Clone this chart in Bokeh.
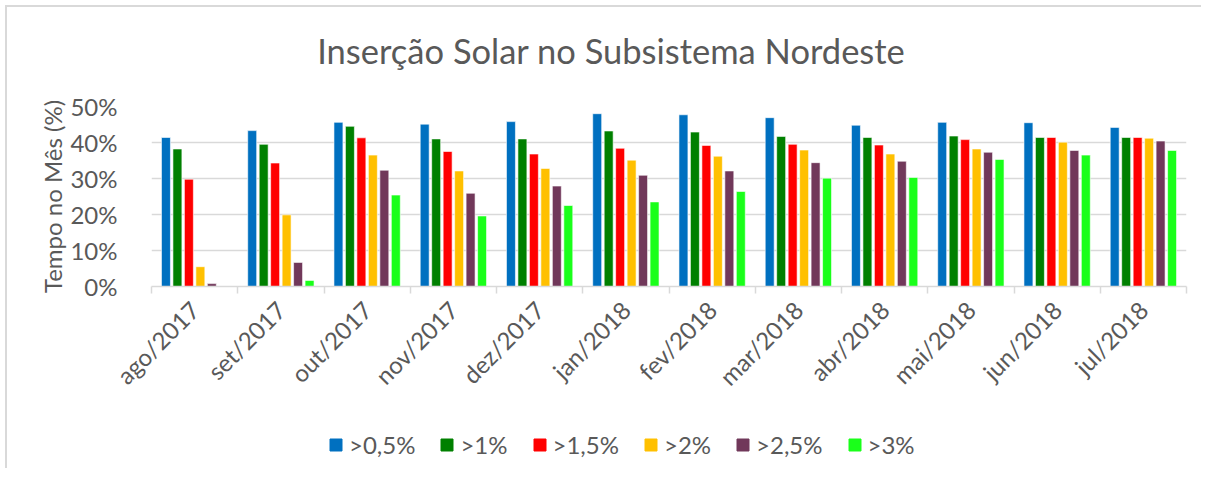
import math
import numpy as np
from bokeh.plotting import figure
from bokeh.layouts import column
from bokeh.models import (ColumnDataSource, FixedTicker, NumeralTickFormatter,
                          Legend, LegendItem, Range1d, Div)
from bokeh.embed import file_html
from bokeh.resources import INLINE

months = ["ago/2017", "set/2017", "out/2017", "nov/2017", "dez/2017", "jan/2018",
          "fev/2018", "mar/2018", "abr/2018", "mai/2018", "jun/2018", "jul/2018"]
series_names = [">0,5%", ">1%", ">1,5%", ">2%", ">2,5%", ">3%"]
s_05 = [41.4, 43.3, 45.6, 45.1, 45.8, 48.0, 47.7, 46.9, 44.8, 45.6, 45.5, 44.2]
s_10 = [38.2, 39.5, 44.5, 41.0, 41.0, 43.2, 42.9, 41.7, 41.4, 41.8, 41.4, 41.4]
s_15 = [29.8, 34.3, 41.3, 37.5, 36.8, 38.4, 39.2, 39.5, 39.3, 40.8, 41.4, 41.4]
s_20 = [5.5, 19.9, 36.5, 32.1, 32.8, 35.1, 36.2, 37.9, 36.8, 38.2, 40.1, 41.2]
s_25 = [0.8, 6.7, 32.3, 25.9, 27.9, 30.9, 32.1, 34.4, 34.8, 37.3, 37.8, 40.4]
s_30 = [0.0, 1.7, 25.4, 19.6, 22.5, 23.5, 26.4, 30.1, 30.3, 35.3, 36.5, 37.8]
colors = ["#0070C0", "#008000", "#FF0000", "#FFC000", "#71385A", "#1AFF1A"]
all_series = [s_05, s_10, s_15, s_20, s_25, s_30]
title_text = "Inserção Solar no Subsistema Nordeste"

FONT = "Lato"
GREY = "#595959"
FS = "24px"

title_div = Div(text=title_text, width=1194, height=70, margin=0,
                styles={"font-family": FONT, "font-size": "34.5px", "color": GREY,
                        "line-height": "34px", "text-align": "center",
                        "padding-top": "27px", "padding-left": "14px",
                        "box-sizing": "border-box", "width": "1194px"})

p = figure(width=1194, height=329, output_backend="svg", toolbar_location=None,
           x_range=Range1d(0, 12), y_range=Range1d(0, 0.5),
           min_border_left=144, min_border_right=15, min_border_top=29,
           min_border_bottom=120)

step = 0.133
bw = 0.104
for i, (name, vals, col) in enumerate(zip(series_names, all_series, colors)):
    xs = [k + 0.5 + (i - 2.5) * step for k in range(len(months))]
    src = ColumnDataSource(dict(x=xs, top=[v / 100 for v in vals]))
    p.vbar(x="x", top="top", bottom=0, width=bw, source=src,
           fill_color=col, line_color="white", line_width=0.6)

centers = [k + 0.5 for k in range(len(months))]
p.xaxis.ticker = FixedTicker(ticks=centers, minor_ticks=list(range(13)))
p.xaxis.major_label_overrides = {c: m for c, m in zip(centers, months)}
p.xaxis.major_label_orientation = math.pi / 4
p.xaxis.major_tick_line_color = None
p.xaxis.minor_tick_line_color = "#D9D9D9"
p.xaxis.minor_tick_line_width = 1.5
p.xaxis.minor_tick_in = 0
p.xaxis.minor_tick_out = 7
p.xaxis.axis_line_color = "#D9D9D9"
p.xaxis.axis_line_width = 1.5
p.xaxis.major_label_text_font = FONT
p.xaxis.major_label_text_font_size = FS
p.xaxis.major_label_text_color = GREY
p.xaxis.major_label_standoff = 12

p.yaxis.ticker = FixedTicker(ticks=[0, 0.1, 0.2, 0.3, 0.4, 0.5])
p.yaxis.formatter = NumeralTickFormatter(format="0%")
p.yaxis.axis_line_color = None
p.yaxis.major_tick_line_color = None
p.yaxis.minor_tick_line_color = None
p.yaxis.major_label_text_font = FONT
p.yaxis.major_label_text_font_size = FS
p.yaxis.major_label_text_color = GREY
p.yaxis.major_label_standoff = 28
p.yaxis.axis_label = "Tempo no Mês (%)"
p.yaxis.axis_label_text_font = FONT
p.yaxis.axis_label_text_font_size = FS
p.yaxis.axis_label_text_font_style = "normal"
p.yaxis.axis_label_text_color = GREY
p.yaxis.axis_label_standoff = 0

p.xgrid.grid_line_color = None
p.ygrid.ticker = FixedTicker(ticks=[0.1, 0.2, 0.3, 0.4, 0.5])
p.ygrid.grid_line_color = "#D9D9D9"
p.ygrid.grid_line_width = 1.5
p.outline_line_color = None

# legend strip under the chart (its frame is aligned with the chart's frame)
lg = figure(width=1194, height=62, output_backend="svg", toolbar_location=None,
            x_range=Range1d(0, 1), y_range=Range1d(0, 1),
            min_border_left=0, min_border_right=0, min_border_top=0,
            min_border_bottom=0, outline_line_color=None)
lg.axis.visible = False
lg.grid.visible = False
items = []
for name, col in zip(series_names, colors):
    # placeholder with no drawable coordinates: only its legend swatch shows
    src = ColumnDataSource(dict(x=np.array([np.nan]), top=np.array([np.nan])))
    r = lg.vbar(x="x", top="top", bottom=0, width=0.1, source=src,
                fill_color=col, line_color=col)
    items.append(LegendItem(label=name, renderers=[r]))
legend = Legend(items=items, orientation="horizontal", location=(177, 9),
                label_text_font=FONT, label_text_font_size=FS,
                label_text_color=GREY, glyph_width=15, glyph_height=15,
                spacing=24, label_standoff=6, border_line_color=None,
                background_fill_alpha=0, padding=0, margin=0)
lg.add_layout(legend, "center")

layout = column(title_div, p, lg, spacing=0)
layout.styles = {"margin-left": "5px", "margin-top": "5px",
                 "border-left": "2px solid #D9D9D9", "border-top": "2px solid #D9D9D9"}

open("out.html", "w").write(file_html(layout, INLINE))
